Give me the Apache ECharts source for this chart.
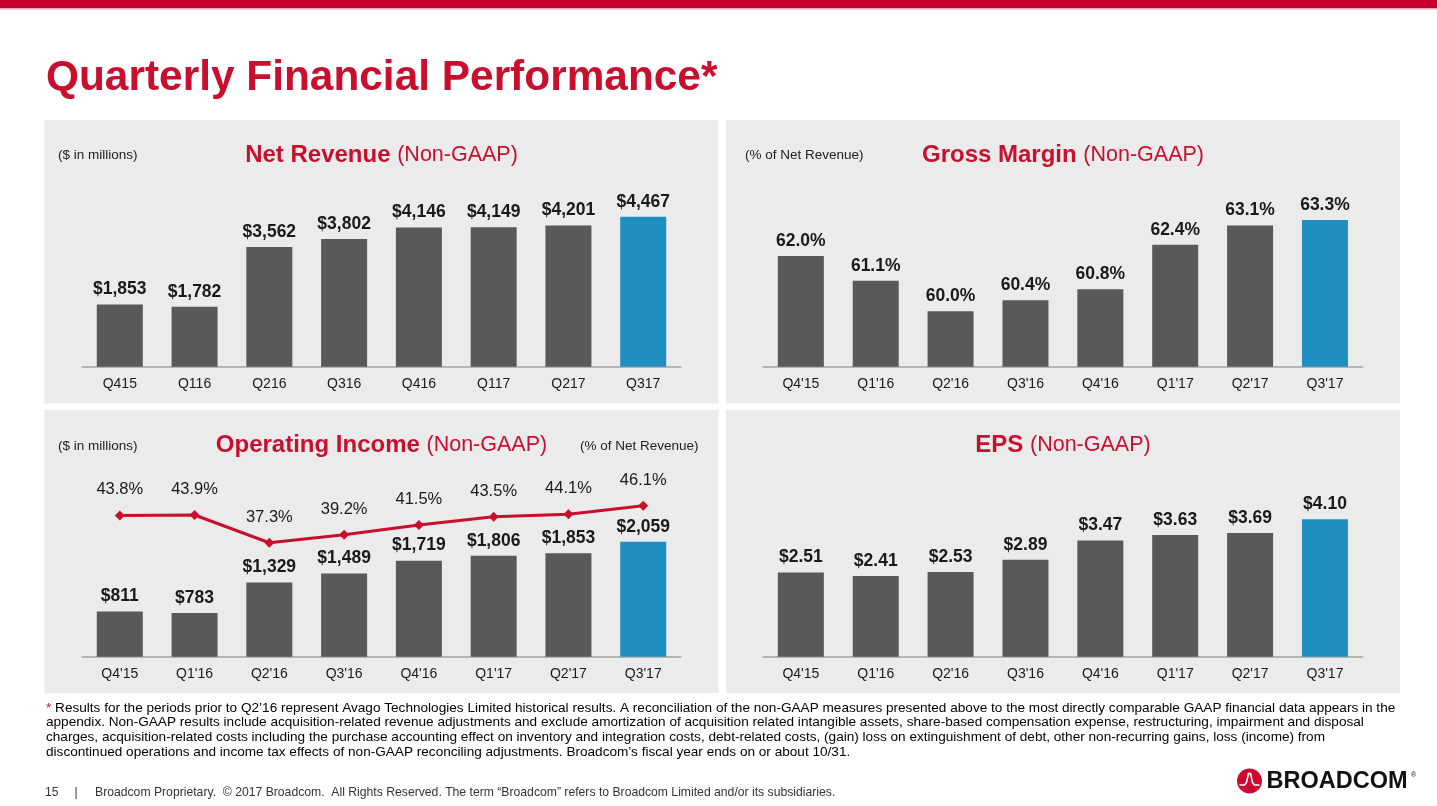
<!DOCTYPE html>
<html>
<head>
<meta charset="utf-8">
<script src="https://cdn.jsdelivr.net/npm/echarts@6/dist/echarts.min.js"></script>
<style>
html,body{margin:0;padding:0;background:#fff;}
#c{width:1437px;height:806px;}
</style>
</head>
<body>
<div id="c"></div>
<script>
// ---- data ----
const revCats = ['Q415','Q116','Q216','Q316','Q416','Q117','Q217','Q317'];
const qCats = ["Q4'15","Q1'16","Q2'16","Q3'16","Q4'16","Q1'17","Q2'17","Q3'17"];
const netRevenue = [1853,1782,3562,3802,4146,4149,4201,4467];
const grossMargin = [62.0,61.1,60.0,60.4,60.8,62.4,63.1,63.3];
const opIncome = [811,783,1329,1489,1719,1806,1853,2059];
const opMargin = [43.8,43.9,37.3,39.2,41.5,43.5,44.1,46.1];
const eps = [2.51,2.41,2.53,2.89,3.47,3.63,3.69,4.10];

const footnoteLines = [
  "Results for the periods prior to Q2\u201916 represent Avago Technologies Limited historical results. A reconciliation of the non-GAAP measures presented above to the most directly comparable GAAP financial data appears in the",
  "appendix. Non-GAAP results include acquisition-related revenue adjustments and exclude amortization of acquisition related intangible assets, share-based compensation expense, restructuring, impairment and disposal",
  "charges, acquisition-related costs including the purchase accounting effect on inventory and integration costs, debt-related costs, (gain) loss on extinguishment of debt, other non-recurring gains, loss (income) from",
  "discontinued operations and income tax effects of non-GAAP reconciling adjustments. Broadcom\u2019s fiscal year ends on or about 10/31."
];

// ---- style ----
const FONT = "'Liberation Sans', Arial, Helvetica, sans-serif";
const RED = '#c8102e';
const GREY_BAR = '#595959';
const BLUE = '#1e8fbe';
const PANEL = '#ebebeb';
const TXT = '#1a1a1a';

const chart = echarts.init(document.getElementById('c'), null, {renderer: 'canvas'});

function barData(arr) {
  return arr.map((v, i) => ({
    value: v,
    itemStyle: {color: i === arr.length - 1 ? BLUE : GREY_BAR}
  }));
}
const money0 = v => '$' + Number(v).toLocaleString('en-US');

function xAx(gi, data) {
  return {
    gridIndex: gi, type: 'category', data: data,
    axisLine: {lineStyle: {color: '#b5b5b5', width: 2}},
    axisTick: {show: false},
    axisLabel: {color: TXT, fontSize: 14, fontFamily: FONT, margin: 10}
  };
}
function yAx(gi, min, max) {
  return {gridIndex: gi, type: 'value', min: min, max: max, show: false, splitLine: {show: false}};
}
const barLabel = fmt => ({
  show: true, position: 'top', distance: 6,
  color: TXT, fontSize: 17.5, fontWeight: 'bold', fontFamily: FONT,
  formatter: p => fmt(p.value)
});

function panelTitle(cx, cy, bold, reg) {
  return {
    type: 'text', x: cx, y: cy, z: 10,
    style: {
      text: '{b|' + bold + ' }{r|' + reg + '}',
      align: 'center', verticalAlign: 'middle',
      rich: {
        b: {fontSize: 24, fontWeight: 'bold', fill: RED, fontFamily: FONT},
        r: {fontSize: 21.5, fill: RED, fontFamily: FONT}
      }
    }
  };
}
function small(x, y, t) {
  return {type: 'text', x: x, y: y, z: 10,
    style: {text: t, fontSize: 13.5, fontFamily: FONT, fill: '#222', verticalAlign: 'middle'}};
}
function panel(x, y, w, h) {
  return {type: 'rect', shape: {x: x, y: y, width: w, height: h}, z: -10, style: {fill: PANEL}};
}

const graphics = [
  {type: 'rect', shape: {x: 0, y: 0, width: 1437, height: 8}, style: {fill: '#c8002f'}, z: 0},
  {type: 'rect', shape: {x: 0, y: 8, width: 1437, height: 1.5}, style: {fill: '#f2a5b5'}, z: 0},
  {type: 'text', x: 46, y: 78, z: 10, style: {text: 'Quarterly Financial Performance*', fontSize: 42.4, fontWeight: 'bold', fontFamily: FONT, fill: RED, verticalAlign: 'middle'}},
  panel(44.5, 120, 674, 283.5),
  panel(726, 120, 674, 283.5),
  panel(44.5, 410, 674, 283),
  panel(726, 410, 674, 283),
  panelTitle(381.5, 155, 'Net Revenue', '(Non-GAAP)'),
  panelTitle(1063, 155, 'Gross Margin', '(Non-GAAP)'),
  panelTitle(381.5, 445, 'Operating Income', '(Non-GAAP)'),
  panelTitle(1063, 445, 'EPS', '(Non-GAAP)'),
  small(58, 155.5, '($ in millions)'),
  small(745, 155.5, '(% of Net Revenue)'),
  small(58, 446.5, '($ in millions)'),
  small(580, 446.5, '(% of Net Revenue)'),
  // footer
  {type: 'text', x: 45, y: 793, z: 10, style: {text: '15', fontSize: 12, fontFamily: FONT, fill: '#333', verticalAlign: 'middle'}},
  {type: 'text', x: 74.5, y: 793, z: 10, style: {text: '|', fontSize: 12, fontFamily: FONT, fill: '#333', verticalAlign: 'middle'}},
  {type: 'text', x: 95, y: 793, z: 10, style: {text: 'Broadcom Proprietary.  \u00a9 2017 Broadcom.  All Rights Reserved. The term \u201cBroadcom\u201d refers to Broadcom Limited and/or its subsidiaries.', fontSize: 12.2, fontFamily: FONT, fill: '#333', verticalAlign: 'middle'}},
  // logo
  {type: 'circle', shape: {cx: 1249.5, cy: 781, r: 12.5}, style: {fill: '#cc092f'}, z: 10},
  {type: 'polyline', z: 11, shape: {points: [[1239.5, 785], [1244.5, 785], [1246.5, 782.5], [1248.5, 773.5], [1250.5, 773.5], [1252.5, 782.5], [1254.5, 785], [1259.5, 785]]}, style: {stroke: '#fff', lineWidth: 1.6, fill: null}},
  {type: 'text', x: 1266.5, y: 782, z: 10, style: {text: 'BROADCOM', fontSize: 23.5, fontWeight: 'bold', fontFamily: FONT, fill: '#111', verticalAlign: 'middle'}},
  {type: 'text', x: 1411, y: 775, z: 10, style: {text: '\u00ae', fontSize: 7, fontFamily: FONT, fill: '#111', verticalAlign: 'middle'}}
];
const fnY = [708, 722.7, 737.4, 752.1];
footnoteLines.forEach((t, i) => {
  graphics.push({
    type: 'text', x: 46, y: fnY[i], z: 10,
    style: {
      text: i === 0 ? '{s|*} ' + t : t,
      fontSize: 13.6, fontFamily: FONT, fill: '#000', verticalAlign: 'middle',
      rich: {s: {fill: RED, fontSize: 13.6, fontFamily: FONT}}
    }
  });
});

const option = {
  backgroundColor: '#ffffff',
  animation: false,
  textStyle: {fontFamily: FONT},
  grid: [
    {left: 82.4, top: 186.7, width: 598.2, height: 180},
    {left: 763.4, top: 186.7, width: 599, height: 180},
    {left: 82.4, top: 476.7, width: 598.2, height: 180},
    {left: 763.4, top: 476.7, width: 599, height: 180}
  ],
  xAxis: [xAx(0, revCats), xAx(1, qCats), xAx(2, qCats), xAx(3, qCats)],
  yAxis: [
    yAx(0, 0, 5360),
    yAx(1, 58, 64.5),
    yAx(2, 0, 3222),
    yAx(3, 0, 5.371),
    yAx(2, 10.16, 53.02)
  ],
  series: [
    {type: 'bar', xAxisIndex: 0, yAxisIndex: 0, barWidth: 46, data: barData(netRevenue), label: barLabel(money0)},
    {type: 'bar', xAxisIndex: 1, yAxisIndex: 1, barWidth: 46, data: barData(grossMargin), label: barLabel(v => Number(v).toFixed(1) + '%')},
    {type: 'bar', xAxisIndex: 2, yAxisIndex: 2, barWidth: 46, data: barData(opIncome), label: barLabel(money0)},
    {type: 'line', xAxisIndex: 2, yAxisIndex: 4, data: opMargin, z: 5,
      lineStyle: {color: RED, width: 3}, itemStyle: {color: RED},
      symbol: 'diamond', symbolSize: 10, showAllSymbol: true,
      label: {show: true, position: 'top', distance: 12, color: TXT, fontSize: 16.5, fontFamily: FONT,
        formatter: p => Number(p.value).toFixed(1) + '%'}},
    {type: 'bar', xAxisIndex: 3, yAxisIndex: 3, barWidth: 46, data: barData(eps), label: barLabel(v => '$' + Number(v).toFixed(2))}
  ],
  graphic: graphics
};
chart.setOption(option);
</script>
</body>
</html>
